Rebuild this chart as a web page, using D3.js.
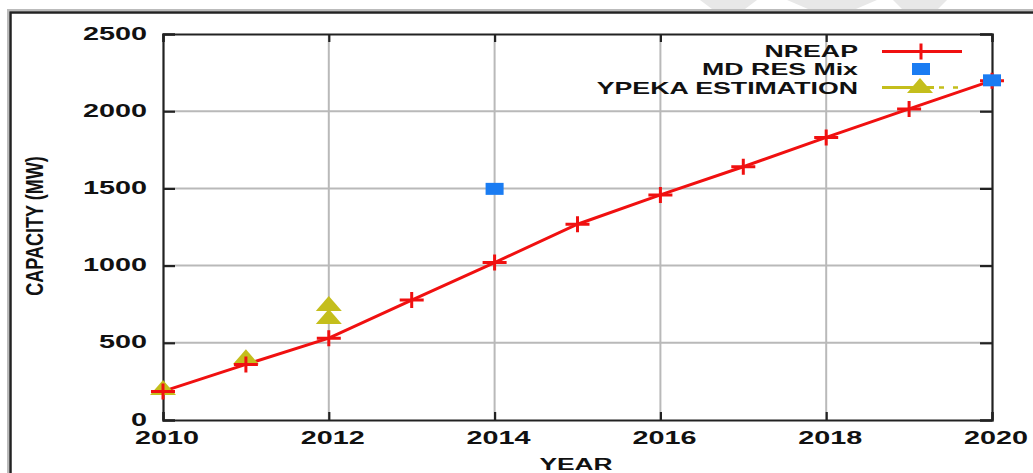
<!DOCTYPE html>
<html>
<head>
<meta charset="utf-8">
<script src="https://cdn.jsdelivr.net/npm/d3@7"></script>
<style>
  html, body { margin: 0; padding: 0; background: #fff; }
  svg { display: block; }
  text { font-family: "Liberation Sans", Arial, Helvetica, sans-serif; font-weight: bold; fill: #111; }
</style>
</head>
<body>
<svg id="chart" width="1033" height="473"></svg>
<script>
// ---- data ----
const years = [2010, 2011, 2012, 2013, 2014, 2015, 2016, 2017, 2018, 2019, 2020];
const nreap = [185, 360, 530, 777, 1020, 1268, 1458, 1640, 1830, 2015, 2198];
const mdResYears = [2014, 2020];
const mdResMix = [1497, 2200];
const ypekaYears = [2010, 2011, 2012, 2012];
const ypekaEstimation = [200, 400, 745, 660];
const xTicks = [2010, 2012, 2014, 2016, 2018, 2020];
const yTicks = [0, 500, 1000, 1500, 2000, 2500];
const seriesNames = ["NREAP", "MD RES Mix", "YPEKA ESTIMATION"];
const xTitle = "YEAR";
const yTitle = "CAPACITY (MW)";

// ---- setup ----
const svg = d3.select("#chart");
const x = d3.scaleLinear().domain([2010, 2020]).range([163, 992]);
const y = d3.scaleLinear().domain([0, 2500]).range([420, 34]);
const SX = 1.6; // horizontal text stretch of the source image

const RED = "#f01010", BLUE = "#1a7cf2", OLIVE = "#c4be1c", GRID = "#b9b9b9", AXIS = "#222";

// watermark remnants at the top
const wm = svg.append("g").attr("fill", "#e8e8e8");
[[700, 757, 712, 745], [787, 877, 808, 856], [893, 947, 902, 938]].forEach(s => {
  wm.append("polygon").attr("points", `${s[0]},0 ${s[1]},0 ${s[3]},9 ${s[2]},9`);
});

// outer frame
svg.append("path").attr("d", "M8,473 V10 H1033").attr("fill", "none").attr("stroke", "#bbb").attr("stroke-width", 2);
svg.append("path").attr("d", "M10.5,473 V12.5 H1033").attr("fill", "none").attr("stroke", AXIS).attr("stroke-width", 2.5);

// grid
const grid = svg.append("g").attr("stroke", GRID).attr("stroke-width", 2);
xTicks.slice(1, -1).forEach(t => grid.append("line").attr("x1", x(t)).attr("x2", x(t)).attr("y1", y(2500)).attr("y2", y(0)));
yTicks.slice(1, -1).forEach(t => grid.append("line").attr("x1", x(2010)).attr("x2", x(2020)).attr("y1", y(t)).attr("y2", y(t)));

// axes frame + inward ticks via d3 axes
const axB = d3.axisBottom(x).tickValues(xTicks).tickSize(-8).tickFormat("");
const axT = d3.axisTop(x).tickValues(xTicks).tickSize(-8).tickFormat("");
const axL = d3.axisLeft(y).tickValues(yTicks).tickSize(-12).tickFormat("");
const axR = d3.axisRight(y).tickValues(yTicks).tickSize(-12).tickFormat("");
[[axB, `translate(0,${y(0)})`], [axT, `translate(0,${y(2500)})`], [axL, `translate(${x(2010)},0)`], [axR, `translate(${x(2020)},0)`]].forEach(([ax, tr]) => {
  const g = svg.append("g").attr("transform", tr).call(ax);
  g.selectAll("path.domain").attr("stroke", AXIS).attr("stroke-width", 2.2);
  g.selectAll(".tick line").attr("stroke", AXIS).attr("stroke-width", 2.2);
});

// helper for stretched text
function stext(px, py, str, size, anchor, sx) {
  const g = svg.append("g").attr("transform", `translate(${px},${py}) scale(${sx || SX},1)`);
  g.append("text").attr("text-anchor", anchor).attr("font-size", size).text(str);
  return g;
}

// tick labels
yTicks.forEach(t => stext(147, y(t) + 5.5, String(t), 18, "end"));
xTicks.forEach(t => stext(x(t) + 4, 443.5, String(t), 18, "middle"));

// axis titles
stext(576, 470, xTitle, 17, "middle", 1.55);
svg.append("g").attr("transform", `translate(43,226) rotate(-90) scale(1.29,1.65)`)
  .append("text").attr("text-anchor", "middle").attr("font-size", 14).text(yTitle);

// NREAP line
const nreapData = years.map((yr, i) => ({ yr, v: nreap[i] }));
svg.append("path").datum(nreapData)
  .attr("d", d3.line().x(d => x(d.yr)).y(d => y(d.v)))
  .attr("fill", "none").attr("stroke", RED).attr("stroke-width", 3);

function cross(g, cx, cy) {
  g.append("path").attr("d", `M${cx - 12},${cy} H${cx + 12} M${cx},${cy - 8} V${cy + 8}`)
    .attr("stroke", RED).attr("stroke-width", 3).attr("fill", "none");
}
function square(g, cx, cy) {
  g.append("rect").attr("x", cx - 9).attr("y", cy - 6).attr("width", 18).attr("height", 12).attr("fill", BLUE);
}
function tri(g, cx, cy) {
  g.append("path").attr("d", `M${cx},${cy - 9} L${cx + 13},${cy + 6} L${cx - 13},${cy + 6} Z`).attr("fill", OLIVE);
}

// YPEKA triangles
const tg = svg.append("g");
ypekaYears.forEach((yr, i) => tri(tg, x(yr), y(ypekaEstimation[i])));
// NREAP crosses
const cg = svg.append("g");
nreapData.forEach(d => cross(cg, x(d.yr), y(d.v)));
// MD RES squares
const sg = svg.append("g");
mdResYears.forEach((yr, i) => square(sg, x(yr), y(mdResMix[i])));

// legend
const lg = svg.append("g");
const rowsY = [57, 75, 93.5];
seriesNames.forEach((n, i) => stext(858, rowsY[i], n, 16.5, "end", 1.62));
lg.append("line").attr("x1", 882).attr("x2", 962).attr("y1", 51.5).attr("y2", 51.5).attr("stroke", RED).attr("stroke-width", 3);
cross(lg, 921, 51.5);
square(lg, 921, 69);
lg.append("line").attr("x1", 882).attr("x2", 934).attr("y1", 87.5).attr("y2", 87.5).attr("stroke", OLIVE).attr("stroke-width", 3);
lg.append("line").attr("x1", 939).attr("x2", 965).attr("y1", 87.5).attr("y2", 87.5).attr("stroke", OLIVE).attr("stroke-width", 2.5).attr("stroke-dasharray", "5,9");
tri(lg, 920, 87);
</script>
</body>
</html>
